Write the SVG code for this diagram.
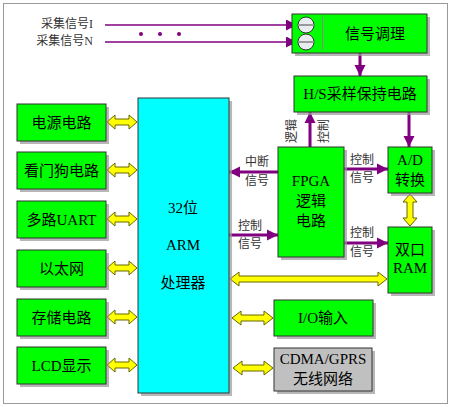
<svg xmlns="http://www.w3.org/2000/svg" width="451" height="407" viewBox="0 0 451 407">
<defs>
<style>
.frame{fill:#fff;stroke:#999;stroke-width:1}
.box{fill:#00ff00;stroke:#333;stroke-width:1}
.arm{fill:#00ffff;stroke:#333;stroke-width:1}
.gray{fill:#c0c0c0;stroke:#333;stroke-width:1}
.sh{fill:#999;opacity:0.7}
.t{font-family:"Liberation Serif","Noto Sans CJK SC",serif;font-size:15px;fill:#000;text-anchor:middle;dominant-baseline:central}
.s{font-family:"Liberation Serif","Noto Sans CJK SC",serif;font-size:12px;fill:#333;text-anchor:middle;dominant-baseline:central}
.in{font-family:"Liberation Serif","Noto Sans CJK SC",serif;font-size:12px;fill:#333;text-anchor:end;dominant-baseline:central}
.p{stroke:#800080;stroke-width:3;fill:none;marker-end:url(#ah)}
.pt{stroke:#800080;stroke-width:1.5;fill:none;marker-end:url(#ahs)}
.y{fill:#ffff00;stroke:#666600;stroke-width:1}
</style>
<marker id="ah" viewBox="0 0 10 10" refX="10" refY="5" markerUnits="userSpaceOnUse" markerWidth="11" markerHeight="13" orient="auto">
<path d="M0,0 L10,5 L0,10 z" fill="#800080"/>
</marker>
<marker id="ahs" viewBox="0 0 10 10" refX="10" refY="5" markerUnits="userSpaceOnUse" markerWidth="12" markerHeight="11" orient="auto">
<path d="M0,0 L10,5 L0,10 z" fill="#800080"/>
</marker>
</defs>
<rect class="frame" x="3.5" y="3.5" width="444" height="400"/>

<g id="connectors">
<line class="pt" x1="105" y1="25" x2="297" y2="25"/>
<line class="pt" x1="105" y1="42" x2="297" y2="42"/>
<circle cx="141" cy="34" r="2" fill="#800080"/>
<circle cx="160" cy="34" r="2" fill="#800080"/>
<circle cx="179" cy="34" r="2" fill="#800080"/>
<line class="p" x1="360" y1="53" x2="360" y2="76"/>
<line class="p" x1="310" y1="147" x2="310" y2="112"/>
<line class="p" x1="409" y1="112" x2="409" y2="147"/>
<line class="p" x1="278" y1="172" x2="229" y2="172"/>
<line class="p" x1="229" y1="235" x2="278" y2="235"/>
<line class="p" x1="344" y1="169" x2="388" y2="169"/>
<line class="p" x1="344" y1="243" x2="388" y2="243"/>
<text class="s" transform="translate(292,131) rotate(-90)">逻辑</text>
<text class="s" transform="translate(324,131) rotate(-90)">控制</text>
<text class="s" x="257" y="162">中断</text>
<text class="s" x="257" y="181">信号</text>
<text class="s" x="250" y="226">控制</text>
<text class="s" x="250" y="244">信号</text>
<text class="s" x="362" y="160">控制</text>
<text class="s" x="362" y="178">信号</text>
<text class="s" x="362" y="233">控制</text>
<text class="s" x="362" y="252">信号</text>
<text class="in" x="93" y="24">采集信号I</text>
<text class="in" x="93" y="41">采集信号N</text>
<!-- yellow double arrows -->
<polygon class="y" points="107,122 115,115 115,119 129,119 129,115 137,122 129,129 129,125 115,125 115,129"/>
<polygon class="y" points="107,170 115,163 115,167 129,167 129,163 137,170 129,177 129,173 115,173 115,177"/>
<polygon class="y" points="107,219 115,212 115,216 129,216 129,212 137,219 129,226 129,222 115,222 115,226"/>
<polygon class="y" points="107,268 115,261 115,265 129,265 129,261 137,268 129,275 129,271 115,271 115,275"/>
<polygon class="y" points="107,317 115,310 115,314 129,314 129,310 137,317 129,324 129,320 115,320 115,324"/>
<polygon class="y" points="107,365 115,358 115,362 129,362 129,358 137,365 129,372 129,368 115,368 115,372"/>
<polygon class="y" points="230,279 239,272 239,276 378,276 378,272 387,279 378,286 378,282 239,282 239,286"/>
<polygon class="y" points="232,318 241,311 241,315 264,315 264,311 273,318 264,325 264,321 241,321 241,325"/>
<polygon class="y" points="233,368 242,361 242,365 264,365 264,361 273,368 264,375 264,371 242,371 242,375"/>
<polygon class="y" points="410,194 417,202 413,202 413,218 417,218 410,226 403,218 407,218 407,202 403,202"/>
</g>

<g id="sigcond">
<rect class="sh" x="295" y="17" width="135" height="39"/>
<rect class="box" x="292" y="14" width="135" height="39"/>
<circle cx="306" cy="25" r="8" fill="#e8ecf0" stroke="#333" stroke-width="1"/>
<circle cx="306" cy="42" r="8" fill="#e8ecf0" stroke="#333" stroke-width="1"/>
<line x1="298" y1="25" x2="314" y2="25" stroke="#999" stroke-width="2"/>
<line x1="298" y1="42" x2="314" y2="42" stroke="#999" stroke-width="2"/>
<line x1="322.5" y1="17" x2="322.5" y2="50" stroke="#888" stroke-width="1"/>
<text class="t" x="375" y="34">信号调理</text>
</g>
<g id="hs">
<rect class="sh" x="297" y="79" width="133" height="36"/>
<rect class="box" x="294" y="76" width="133" height="36"/>
<text class="t" x="360" y="94">H/S采样保持电路</text>
</g>
<g id="fpga">
<rect class="sh" x="281" y="150" width="66" height="110"/>
<rect class="box" x="278" y="147" width="66" height="110"/>
<text class="t" x="311" y="181">FPGA</text>
<text class="t" x="311" y="201">逻辑</text>
<text class="t" x="311" y="221">电路</text>
</g>
<g id="ad">
<rect class="sh" x="391" y="150" width="44" height="46"/>
<rect class="box" x="388" y="147" width="44" height="46"/>
<text class="t" x="410" y="160">A/D</text>
<text class="t" x="410" y="180">转换</text>
</g>
<g id="ram">
<rect class="sh" x="391" y="230" width="44" height="66"/>
<rect class="box" x="388" y="227" width="44" height="66"/>
<text class="t" x="410" y="250">双口</text>
<text class="t" x="410" y="268">RAM</text>
</g>
<g id="io">
<rect class="sh" x="277" y="303" width="99" height="36"/>
<rect class="box" x="274" y="300" width="99" height="36"/>
<text class="t" x="323" y="318">I/O输入</text>
</g>
<g id="cdma">
<rect class="sh" x="277" y="351" width="98" height="43"/>
<rect class="gray" x="274" y="348" width="98" height="43"/>
<text class="t" x="323" y="359">CDMA/GPRS</text>
<text class="t" x="323" y="379">无线网络</text>
</g>
<g id="arm">
<rect class="sh" x="141" y="101" width="91" height="295"/>
<rect class="arm" x="138" y="98" width="91" height="295"/>
<text class="t" x="183" y="208">32位</text>
<text class="t" x="183" y="245">ARM</text>
<text class="t" x="183" y="283">处理器</text>
</g>
<g id="power">
<rect class="sh" x="20" y="107" width="89" height="37"/>
<rect class="box" x="17" y="104" width="89" height="37"/>
<text class="t" x="61.5" y="122.5">电源电路</text>
</g>
<g id="watchdog">
<rect class="sh" x="20" y="155" width="89" height="37"/>
<rect class="box" x="17" y="152" width="89" height="37"/>
<text class="t" x="61.5" y="170.5">看门狗电路</text>
</g>
<g id="uart">
<rect class="sh" x="20" y="204" width="89" height="37"/>
<rect class="box" x="17" y="201" width="89" height="37"/>
<text class="t" x="61.5" y="219.5">多路UART</text>
</g>
<g id="ethernet">
<rect class="sh" x="20" y="253" width="89" height="37"/>
<rect class="box" x="17" y="250" width="89" height="37"/>
<text class="t" x="61.5" y="268.5">以太网</text>
</g>
<g id="storage">
<rect class="sh" x="20" y="302" width="89" height="37"/>
<rect class="box" x="17" y="299" width="89" height="37"/>
<text class="t" x="61.5" y="317.5">存储电路</text>
</g>
<g id="lcd">
<rect class="sh" x="20" y="350" width="89" height="37"/>
<rect class="box" x="17" y="347" width="89" height="37"/>
<text class="t" x="61.5" y="365.5">LCD显示</text>
</g>
</svg>
